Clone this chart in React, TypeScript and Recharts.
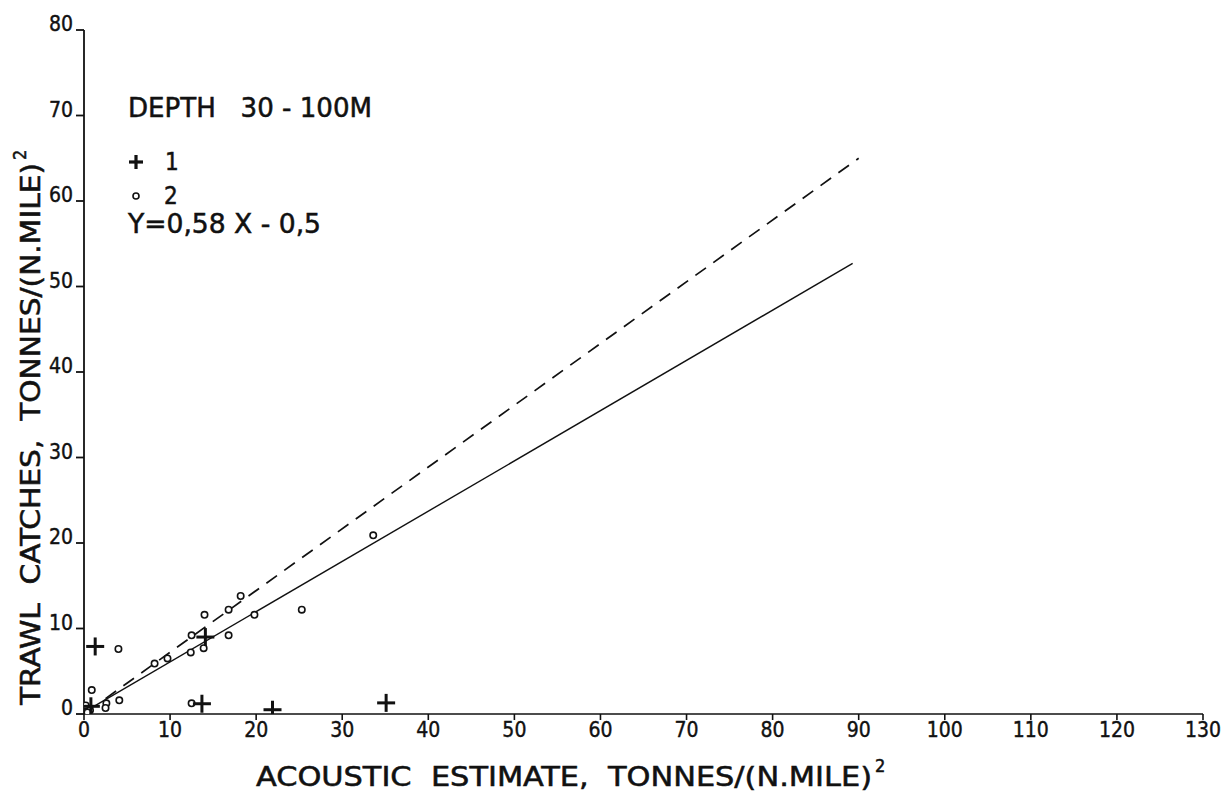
import { ReferenceLine, Scatter, ScatterChart, XAxis, YAxis } from 'recharts';

// axis ticks
const xTicks = [0, 10, 20, 30, 40, 50, 60, 70, 80, 90, 100, 110, 120, 130];
const yTicks = [0, 10, 20, 30, 40, 50, 60, 70, 80];

// series 1 (+)
const crossX = [1.3, 0.8, 14.1, 13.7, 21.9, 35.1];
const crossY = [7.9, 0.9, 9.0, 1.2, 0.5, 1.3];

// series 2 (o)
const circleX = [0.2, 0.7, 0.4, 0.9, 2.6, 2.5, 4.1, 4.0, 8.2, 9.7, 12.5, 12.4, 14.0, 13.9, 16.8, 16.8, 18.2, 19.8, 25.3, 12.5, 33.6];
const circleY = [1.0, 0.45, 0.2, 2.8, 1.25, 0.7, 1.6, 7.6, 5.9, 6.5, 9.2, 7.2, 11.6, 7.7, 12.2, 9.2, 13.8, 11.6, 12.2, 1.25, 20.9];

// fitted line (solid) and the dashed line, end points
const fitX = [1.0, 89.3];
const fitY = [0.8, 52.7];
const dashX = [2.5, 90];
const dashY = [1.8, 65];

const crosses = crossX.map((x, i) => ({ x, y: crossY[i] }));
const circles = circleX.map((x, i) => ({ x, y: circleY[i] }));

const FONT = '"DejaVu Sans Condensed", "DejaVu Sans", sans-serif';
const INK = '#111';

const PlusShape = (props: any) => {
  const { cx, cy } = props;
  if (cx == null || cy == null) return null;
  const a = 9;
  return (
    <g stroke={INK} strokeWidth={3}>
      <line x1={cx - a} y1={cy} x2={cx + a} y2={cy} />
      <line x1={cx} y1={cy - a} x2={cx} y2={cy + a} />
    </g>
  );
};

const CircleShape = (props: any) => {
  const { cx, cy } = props;
  if (cx == null || cy == null) return null;
  return <circle cx={cx} cy={cy} r={3.2} fill="#fff" stroke={INK} strokeWidth={1.6} />;
};

const XTick = (props: any) => {
  const { x, y, payload } = props;
  return (
    <text x={x} y={y} dy="0.71em" textAnchor="middle" fontFamily={FONT} fontSize={21} fill={INK} stroke={INK} strokeWidth={0.4}>
      {payload.value}
    </text>
  );
};

const YTick = (props: any) => {
  const { x, y, payload } = props;
  return (
    <text x={x} y={y + 1} textAnchor="end" fontFamily={FONT} fontSize={21} fill={INK} stroke={INK} strokeWidth={0.4}>
      {payload.value}
    </text>
  );
};

export default function App() {
  return (
    <div style={{ position: 'absolute', left: 0, top: 0, width: 1223, height: 797, background: '#fff' }}>
      <ScatterChart width={1223} height={797} margin={{ top: 30, right: 20, bottom: 33, left: 44 }}>
        <XAxis
          type="number"
          dataKey="x"
          domain={[0, 130]}
          ticks={xTicks}
          interval={0}
          height={50}
          tickSize={6}
          tickMargin={2}
          tick={<XTick />}
          stroke={INK}
          strokeWidth={1.6}
          allowDataOverflow
        />
        <YAxis
          type="number"
          dataKey="y"
          domain={[0, 80]}
          ticks={yTicks}
          interval={0}
          width={40}
          tickSize={8}
          tickMargin={3}
          tick={<YTick />}
          stroke={INK}
          strokeWidth={1.8}
          allowDataOverflow
        />
        <ReferenceLine
          segment={[{ x: dashX[0], y: dashY[0] }, { x: dashX[1], y: dashY[1] }]}
          stroke={INK}
          strokeWidth={1.7}
          strokeDasharray="13 9"
          ifOverflow="visible"
        />
        <ReferenceLine
          segment={[{ x: fitX[0], y: fitY[0] }, { x: fitX[1], y: fitY[1] }]}
          stroke={INK}
          strokeWidth={1.4}
          ifOverflow="visible"
        />
        <Scatter name="2" data={circles} shape={<CircleShape />} isAnimationActive={false} />
        <Scatter name="1" data={crosses} shape={<PlusShape />} isAnimationActive={false} />
      </ScatterChart>

      <svg
        width={1223}
        height={797}
        style={{ position: 'absolute', left: 0, top: 0, pointerEvents: 'none' }}
        fontFamily={FONT}
        fill={INK}
        stroke={INK}
        strokeWidth={0.5}
      >
        <text x={128} y={117} fontSize={27} textLength={244} lengthAdjust="spacingAndGlyphs">
          DEPTH&#160;&#160;&#160;30 - 100M
        </text>
        <g strokeWidth={3.2}>
          <line x1={129} y1={162} x2={143} y2={162} />
          <line x1={136} y1={155} x2={136} y2={169} />
        </g>
        <text x={165} y={170} fontSize={24}>1</text>
        <circle cx={136} cy={196} r={3} fill="#fff" strokeWidth={1.6} />
        <text x={164} y={204} fontSize={24}>2</text>
        <text x={128} y={233} fontSize={27} textLength={193} lengthAdjust="spacingAndGlyphs">
          Y=0,58 X - 0,5
        </text>

        <text x={256} y={786} fontSize={27} textLength={616} lengthAdjust="spacingAndGlyphs">
          ACOUSTIC&#160;&#160;ESTIMATE,&#160;&#160;TONNES/(N.MILE)
        </text>
        <text x={875} y={772} fontSize={18}>2</text>

        <g transform="translate(40, 705) rotate(-90)">
          <text x={0} y={0} fontSize={27} textLength={542} lengthAdjust="spacingAndGlyphs">
            TRAWL&#160;&#160;CATCHES,&#160;&#160;TONNES/(N.MILE)
          </text>
          <text x={545} y={-14} fontSize={18}>2</text>
        </g>
      </svg>
    </div>
  );
}
